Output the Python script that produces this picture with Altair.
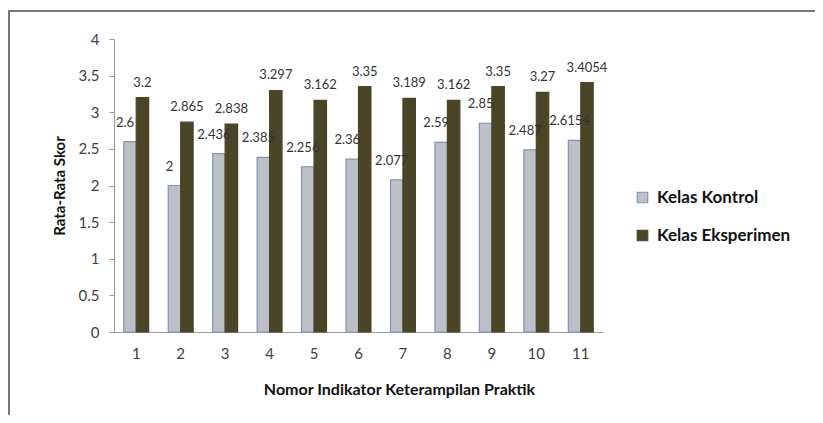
import altair as alt
import pandas as pd

indikator = ["1", "2", "3", "4", "5", "6", "7", "8", "9", "10", "11"]
kontrol = [2.6, 2.0, 2.436, 2.385, 2.256, 2.36, 2.077, 2.59, 2.85, 2.487, 2.6154]
eksperimen = [3.2, 2.865, 2.838, 3.297, 3.162, 3.35, 3.189, 3.162, 3.35, 3.27, 3.4054]
seri = ["Kelas Kontrol", "Kelas Eksperimen"]
kontrol_labels = ["2.6", "2", "2.436", "2.385", "2.256", "2.36", "2.077", "2.59", "2.85", "2.487", "2.6154"]
eksperimen_labels = ["3.2", "2.865", "2.838", "3.297", "3.162", "3.35", "3.189", "3.162", "3.35", "3.27", "3.4054"]
y_ticks = [0, 0.5, 1, 1.5, 2, 2.5, 3, 3.5, 4]

rows = []
for i, k in enumerate(indikator):
    rows.append({"ind": k, "seri": seri[0], "nilai": kontrol[i], "lbl": kontrol_labels[i]})
    rows.append({"ind": k, "seri": seri[1], "nilai": eksperimen[i], "lbl": eksperimen_labels[i]})
df = pd.DataFrame(rows)

FONT = "Lato"
x_axis = alt.Axis(title="Nomor Indikator Keterampilan Praktik", labelAngle=0,
                  ticks=False, labelPadding=14, labelFontSize=15,
                  labelColor="#404040", titleFontSize=16, titleFont=FONT,
                  titleFontWeight="bold", titleColor="#111111", titlePadding=20,
                  titleX=285, domainColor="#999999", labelFont=FONT)
y_axis = alt.Axis(title="Rata-Rata Skor", values=y_ticks, format="~g",
                  labelOverlap=False, labelFlush=False, tickCount=9,
                  grid=False, tickSize=5, tickColor="#999999", domainColor="#999999",
                  labelPadding=10, labelFontSize=15, labelColor="#404040",
                  labelFont=FONT, titleFont=FONT, titleFontSize=15,
                  titleFontWeight="bold", titleColor="#111111", titlePadding=11)
x_scale = alt.Scale(paddingInner=0.44, paddingOuter=0.22)
y_scale = alt.Scale(domain=[0, 4])

def xe():
    return alt.X("ind:N", sort=indikator, scale=x_scale, axis=x_axis)

def ye():
    return alt.Y("nilai:Q", scale=y_scale, axis=y_axis)

def xo():
    return alt.XOffset("seri:N", sort=seri, scale=alt.Scale(paddingInner=0, paddingOuter=0))

leg = alt.Legend(title=None, orient="none", legendX=520, legendY=150,
                 symbolType="square", symbolSize=110, labelFont=FONT,
                 labelFontSize=17, labelFontWeight="bold", labelColor="#111111",
                 rowPadding=20, symbolStrokeWidth=1.2, labelOffset=6)

bars = alt.Chart(df).mark_bar(strokeWidth=1.2).encode(
    x=xe(), xOffset=xo(), y=ye(),
    fill=alt.Fill("seri:N", sort=seri,
                  scale=alt.Scale(domain=seri, range=["#bcc0c9", "#4b4528"]), legend=leg),
    stroke=alt.Stroke("seri:N", sort=seri,
                      scale=alt.Scale(domain=seri, range=["#8193b4", "#4b4528"]), legend=leg),
)

lbl_k = alt.Chart(df).transform_filter(alt.datum.seri == seri[0]).mark_text(
    baseline="bottom", dx=-5, dy=-12, fontSize=13, font=FONT, color="#333333"
).encode(x=xe(), xOffset=xo(), y=ye(), text="lbl:N")
lbl_e = alt.Chart(df).transform_filter(alt.datum.seri == seri[1]).mark_text(
    baseline="bottom", dy=-8, fontSize=13, font=FONT, color="#333333"
).encode(x=xe(), xOffset=xo(), y=ye(), text="lbl:N")

frame = alt.Chart(df).mark_rect(fill="transparent", stroke="#777777", strokeWidth=2).encode(
    x=alt.value(-105), x2=alt.value(740), y=alt.value(-28), y2=alt.value(420))

chart = alt.layer(frame, bars, lbl_k, lbl_e).properties(
    width=489, height=293,
    autosize=alt.AutoSizeParams(type="none"),
    padding={"left": 106, "top": 31, "right": 212, "bottom": 83},
).configure(font=FONT, view=alt.ViewConfig(stroke=None))

chart.save("out.html", embed_options={"renderer": "svg", "actions": False})
